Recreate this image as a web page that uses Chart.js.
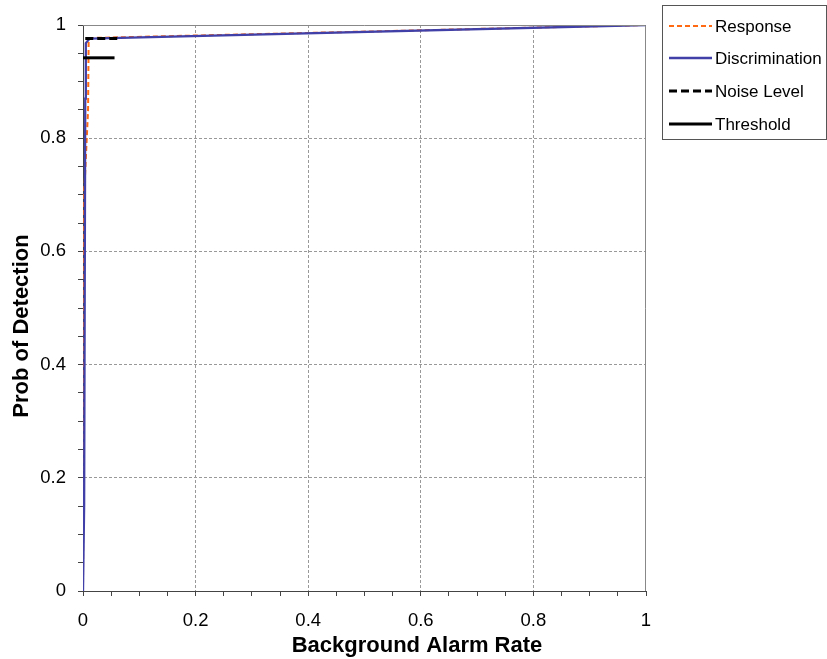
<!DOCTYPE html>
<html>
<head>
<meta charset="utf-8">
<script src="https://cdn.jsdelivr.net/npm/chart.js@4"></script>
<style>
  html, body { margin: 0; padding: 0; background: #fff; }
  #wrap { width: 827px; height: 659px; position: relative; }
</style>
</head>
<body>
<div id="wrap"><canvas id="rocChart" width="827" height="659"></canvas></div>
<script>
// values
const responseX = [0, 0.002, 0.003, 0.009, 0.010, 0.013, 1];
const responseY = [0, 0.71, 0.72, 0.85, 0.97, 0.977, 1];
const discrimX = [0, 0.002, 0.004, 0.005, 0.012, 1];
const discrimY = [0, 0.15, 0.87, 0.968, 0.976, 1];
const noiseX = [0.004, 0.062];
const noiseY = [0.976, 0.976];
const thresholdX = [0, 0.056];
const thresholdY = [0.942, 0.942];
const tickLabels = ['0', '0.2', '0.4', '0.6', '0.8', '1'];
const seriesNames = ['Response', 'Discrimination', 'Noise Level', 'Threshold'];

const pts = (xs, ys) => xs.map((x, i) => ({ x: x, y: ys[i] }));
const isMajor = v => Math.abs(v * 5 - Math.round(v * 5)) < 1e-6;
const labelFor = v => isMajor(v) ? tickLabels[Math.round(v * 5)] : '';

const FONT = "'Liberation Sans', Arial, sans-serif";

const frameAndLegend = {
  id: 'frameAndLegend',
  afterDraw(chart) {
    const { ctx, chartArea: a } = chart;
    ctx.save();
    // top + right frame
    ctx.strokeStyle = '#888';
    ctx.lineWidth = 1;
    ctx.beginPath();
    ctx.moveTo(a.left, a.top + 0.5);
    ctx.lineTo(a.right - 0.5, a.top + 0.5);
    ctx.lineTo(a.right - 0.5, a.bottom);
    ctx.stroke();

    // axis titles
    ctx.fillStyle = '#000';
    ctx.font = 'bold 22px ' + FONT;
    ctx.textAlign = 'center';
    ctx.textBaseline = 'middle';
    ctx.fillText('Background Alarm Rate', 417, 646);
    ctx.translate(22, 326);
    ctx.rotate(-Math.PI / 2);
    ctx.fillText('Prob of Detection', 0, 0);
    ctx.restore();

    // legend box
    ctx.save();
    ctx.strokeStyle = '#555';
    ctx.lineWidth = 1;
    ctx.strokeRect(662.5, 5.5, 164, 134);
    const styles = chart.data.datasets;
    const rows = [26, 58, 91, 124];
    ctx.font = '17px ' + FONT;
    ctx.textBaseline = 'middle';
    ctx.textAlign = 'left';
    styles.forEach((ds, i) => {
      ctx.beginPath();
      ctx.strokeStyle = ds.borderColor;
      ctx.lineWidth = ds.borderWidth;
      ctx.setLineDash(ds.borderDash || []);
      ctx.moveTo(669, rows[i]);
      ctx.lineTo(712, rows[i]);
      ctx.stroke();
      ctx.setLineDash([]);
      ctx.fillStyle = '#000';
      ctx.fillText(seriesNames[i], 715, rows[i] + 1);
    });
    ctx.restore();
  }
};

const axisCommon = {
  type: 'linear',
  min: 0,
  max: 1,
  ticks: {
    stepSize: 0.05,
    autoSkip: false,
    color: '#000',
    font: { family: FONT, size: 18.5 },
    callback: v => labelFor(v)
  },
  grid: {
    color: c => (c.tick && isMajor(c.tick.value) && c.tick.value > 0 && c.tick.value < 1) ? '#999' : 'rgba(0,0,0,0)',
    lineWidth: 1,
    tickLength: 5,
    tickColor: '#444',
    drawTicks: true
  },
  border: { display: true, color: '#444', width: 1, dash: [3, 2] }
};

new Chart(document.getElementById('rocChart'), {
  type: 'scatter',
  data: {
    datasets: [
      { label: seriesNames[0], data: pts(responseX, responseY), showLine: true, borderColor: '#FF6A13', borderWidth: 2, borderDash: [5, 3], pointRadius: 0, order: 2 },
      { label: seriesNames[1], data: pts(discrimX, discrimY), showLine: true, borderColor: '#4040A8', borderWidth: 2.3, pointRadius: 0, order: 1 },
      { label: seriesNames[2], data: pts(noiseX, noiseY), showLine: true, borderColor: '#000', borderWidth: 3, borderDash: [8, 4], pointRadius: 0, order: 0 },
      { label: seriesNames[3], data: pts(thresholdX, thresholdY), showLine: true, borderColor: '#000', borderWidth: 3, pointRadius: 0, order: 0 }
    ]
  },
  options: {
    responsive: false,
    animation: false,
    layout: { padding: { left: 0, right: 181, top: 25, bottom: 0 } },
    plugins: { legend: { display: false }, tooltip: { enabled: false } },
    scales: {
      x: Object.assign({}, axisCommon, {
        ticks: Object.assign({}, axisCommon.ticks, { padding: 14, maxRotation: 0 }),
        afterFit: s => { s.height = 68; }
      }),
      y: Object.assign({}, axisCommon, {
        ticks: Object.assign({}, axisCommon.ticks, { padding: 12 }),
        afterFit: s => { s.width = 83; }
      })
    }
  },
  plugins: [frameAndLegend]
});
</script>
</body>
</html>
